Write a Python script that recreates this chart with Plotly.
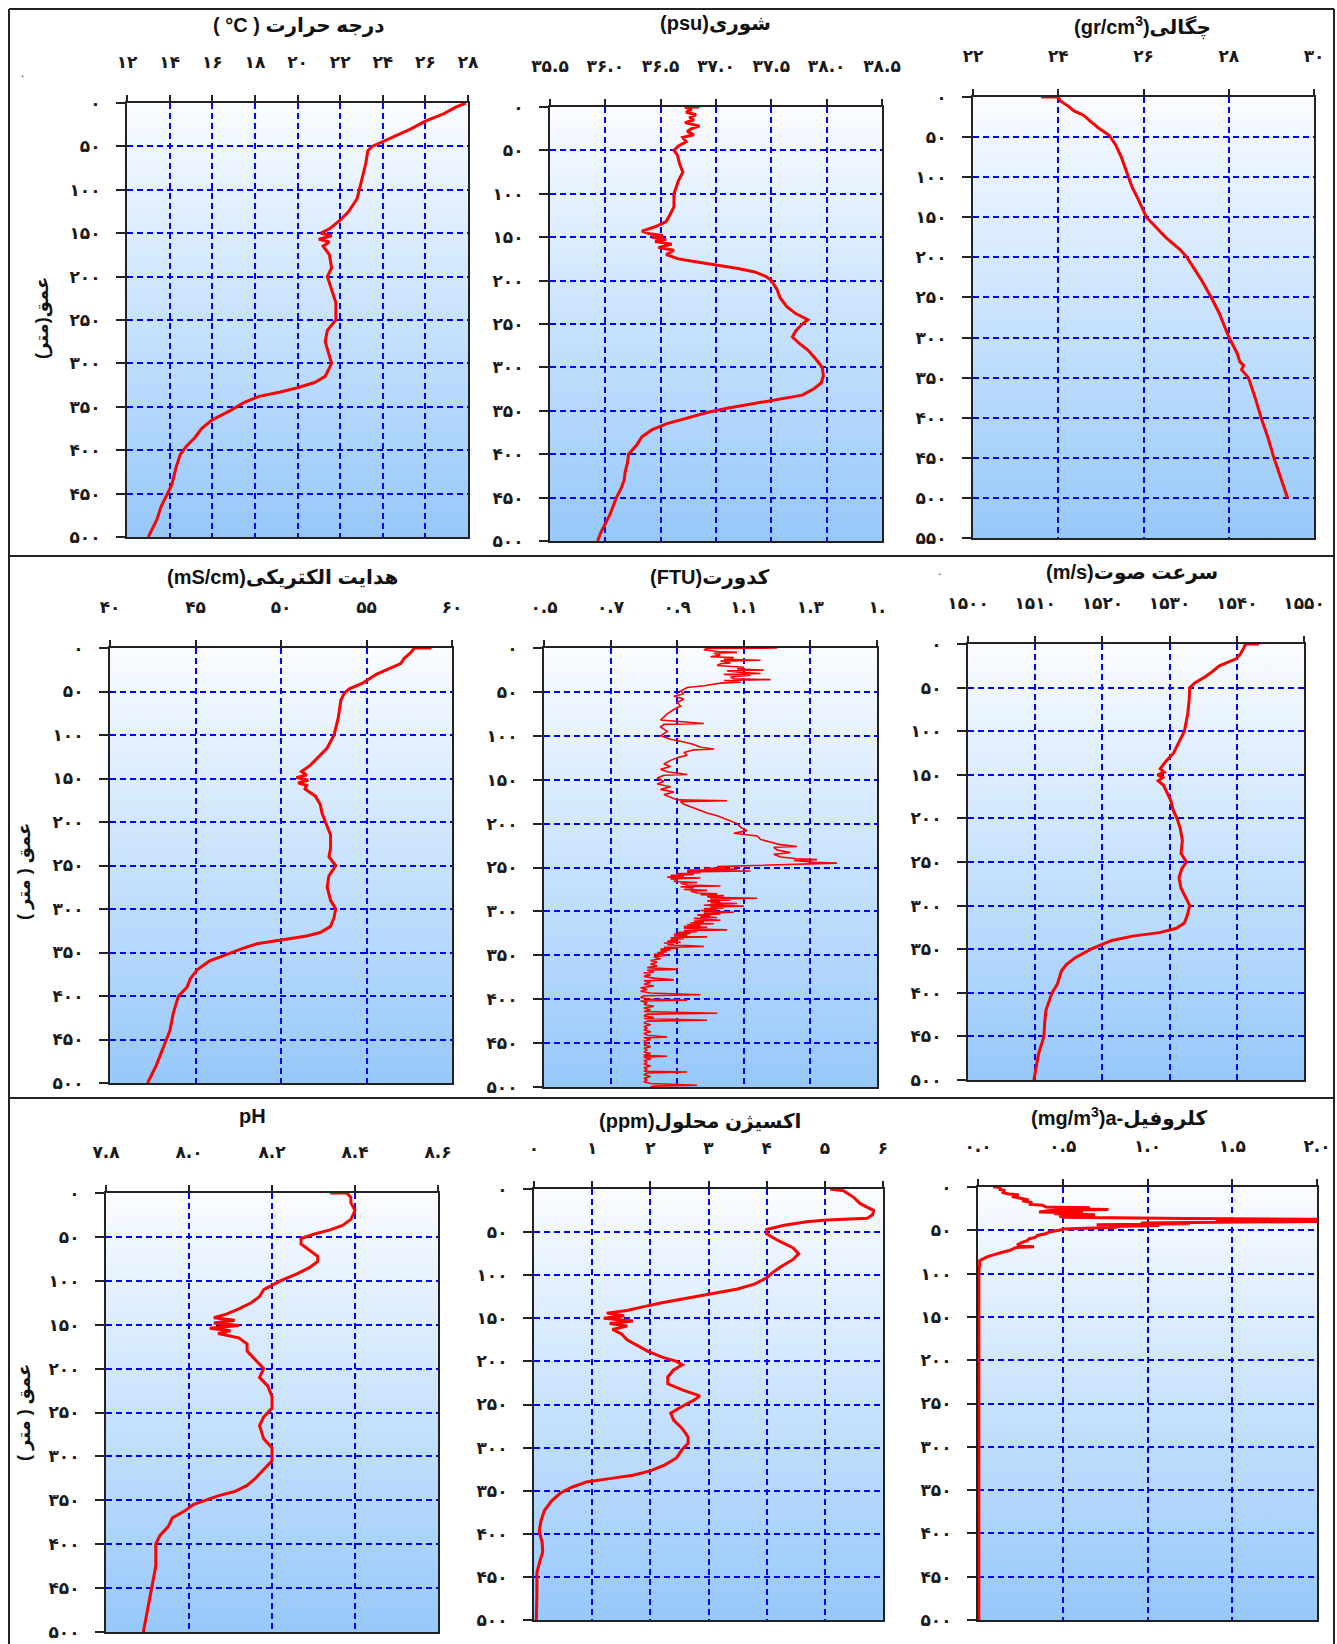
import base64
import plotly.graph_objects as go

W, H = 1337, 1644
FA = str.maketrans("0123456789", "۰۱۲۳۴۵۶۷۸۹")


def fa(s):
    return s.translate(FA)


# ------------------------------------------------------------------ data
temp_depth = [0, 5, 12, 21, 30, 40, 46, 50, 55, 70, 90, 110, 125, 135, 145, 150, 153, 157, 160, 165,
              175, 190, 200, 215, 230, 250, 262, 275, 290, 300, 315, 322, 328, 333, 338, 345, 355, 365,
              375, 385, 395, 405, 420, 440, 450, 465, 480, 490, 500]
temp_val = [27.9, 27.4, 26.9, 26.0, 25.3, 24.4, 23.9, 23.5, 23.3, 23.2, 23.0, 22.8, 22.4, 22.0, 21.5,
            21.1, 21.6, 21.0, 21.5, 21.2, 21.5, 21.6, 21.4, 21.6, 21.8, 21.8, 21.4, 21.3, 21.5, 21.6,
            21.3, 20.8, 20.0, 19.2, 18.2, 17.5, 16.8, 16.0, 15.5, 15.2, 14.8, 14.5, 14.3, 14.1, 13.9,
            13.6, 13.4, 13.2, 13.0]

sal_depth = [0, 0, 3, 6, 9, 12, 15, 18, 22, 25, 28, 32, 35, 40, 45, 50, 55, 65, 75, 85, 100, 115, 125,
             132, 138, 143, 146, 148, 150, 153, 155, 158, 162, 165, 170, 175, 178, 182, 186, 190, 195,
             200, 210, 220, 230, 238, 245, 250, 258, 265, 272, 280, 290, 300, 310, 318, 325, 332, 337,
             342, 347, 352, 358, 365, 372, 380, 390, 400, 410, 420, 430, 440, 450, 460, 470, 480, 490, 500]
sal_val = [36.85, 36.72, 36.78, 36.73, 36.82, 36.76, 36.80, 36.72, 36.85, 36.78, 36.74, 36.80, 36.70,
           36.73, 36.66, 36.62, 36.65, 36.67, 36.70, 36.66, 36.62, 36.62, 36.58, 36.55, 36.45, 36.33,
           36.40, 36.52, 36.42, 36.55, 36.45, 36.60, 36.48, 36.62, 36.55, 36.66, 36.80, 37.00, 37.20,
           37.35, 37.45, 37.50, 37.55, 37.58, 37.64, 37.72, 37.83, 37.78, 37.72, 37.69, 37.75, 37.83,
           37.90, 37.96, 37.97, 37.95, 37.88, 37.78, 37.55, 37.30, 37.10, 36.92, 36.75, 36.55, 36.42,
           36.33, 36.28, 36.21, 36.20, 36.18, 36.17, 36.14, 36.10, 36.07, 36.04, 36.00, 35.96, 35.93]

dens_depth = [0, 0, 5, 12, 17, 23, 30, 38, 48, 60, 75, 95, 112, 128, 140, 150, 160, 175, 190, 200, 215,
              230, 250, 270, 290, 300, 320, 330, 335, 340, 350, 375, 400, 425, 450, 475, 500]
dens_val = [23.6, 24.0, 24.05, 24.25, 24.36, 24.6, 24.75, 24.93, 25.2, 25.35, 25.48, 25.62, 25.73, 25.88,
            25.98, 26.07, 26.25, 26.52, 26.85, 27.02, 27.2, 27.38, 27.59, 27.78, 27.93, 28.01, 28.2,
            28.26, 28.35, 28.3, 28.46, 28.62, 28.76, 28.92, 29.06, 29.22, 29.38]

cond_depth = [0, 0, 5, 12, 18, 25, 30, 40, 47, 52, 60, 80, 100, 115, 125, 135, 142, 146, 149, 152, 155,
              158, 162, 170, 180, 190, 200, 215, 230, 240, 250, 262, 275, 290, 300, 310, 320, 327, 331,
              335, 340, 345, 350, 360, 370, 380, 390, 400, 420, 440, 450, 465, 480, 500]
cond_val = [58.8, 57.8, 57.6, 57.2, 57.0, 56.2, 55.6, 54.8, 54.0, 53.7, 53.5, 53.35, 53.1, 52.7, 52.2,
            51.7, 51.2, 51.5, 50.9, 51.6, 51.0, 51.5, 51.4, 52.0, 52.3, 52.4, 52.6, 52.9, 52.9, 52.8,
            53.2, 52.8, 52.7, 52.9, 53.2, 53.1, 52.9, 52.3, 51.5, 50.2, 48.6, 47.8, 47.1, 45.8, 45.1,
            44.7, 44.5, 44.0, 43.7, 43.5, 43.3, 43.0, 42.7, 42.2]

# turbidity profile as (depth, FTU) readings
turb_points = [
    (0, 1.20), (0.5, 0.99), (2, 0.98), (4, 1.02), (5, 1.08), (6, 1.01), (8, 1.03), (10, 1.00),
    (11, 1.07), (13, 1.04), (14, 1.15), (15, 1.03), (17, 1.06), (18, 1.03), (20, 1.02), (22, 1.10),
    (24, 1.08), (25, 1.16), (26, 1.05), (28, 1.10), (29, 1.15), (30, 1.04), (31, 1.12), (33, 1.06),
    (35, 1.07), (36, 1.18), (37, 1.04), (39, 1.09), (40, 1.03), (43, 0.98), (45, 0.93), (49, 0.91),
    (52, 0.92), (55, 0.89), (58, 0.92), (62, 0.90), (66, 0.91), (70, 0.89), (75, 0.87), (78, 0.86),
    (82, 0.85), (86, 0.98), (87, 0.86), (90, 0.85), (95, 0.87), (100, 0.85), (104, 0.88), (107, 0.92),
    (110, 0.95), (113, 0.97), (115, 1.01), (116, 0.95), (119, 0.92), (122, 0.93), (125, 0.90),
    (128, 0.88), (132, 0.86), (135, 0.88), (138, 0.85), (141, 0.87), (144, 0.93), (145, 0.86),
    (148, 0.84), (152, 0.86), (155, 0.84), (158, 0.88), (161, 0.85), (164, 0.89), (167, 0.86),
    (170, 0.88), (173, 0.90), (174, 1.05), (175, 0.91), (178, 0.92), (181, 0.94), (185, 0.97),
    (188, 0.99), (191, 1.02), (194, 1.04), (197, 1.06), (200, 1.08), (204, 1.09), (208, 1.11),
    (211, 1.07), (214, 1.14), (218, 1.15), (221, 1.18), (224, 1.21), (226, 1.26), (227, 1.19),
    (230, 1.20), (233, 1.24), (235, 1.19), (238, 1.21), (240, 1.26), (241, 1.32), (242, 1.25),
    (244, 1.31), (245, 1.38), (246, 1.30), (247, 1.22), (248, 1.10), (249, 1.02),
    (250, 1.05), (251, 0.98), (252, 1.08), (253, 0.93), (254, 1.12), (255, 0.93), (256, 0.97),
    (257, 0.90), (258, 0.95), (259, 0.88), (260, 0.92), (261, 0.87), (262, 0.97), (263, 0.88),
    (264, 0.90), (266, 0.89), (267, 0.96), (268, 0.91), (270, 0.93), (271, 1.03), (272, 0.91),
    (273, 0.95), (275, 0.92), (276, 0.99), (277, 0.94), (279, 0.96), (280, 1.02), (281, 0.97),
    (282, 1.04), (283, 0.99), (284, 1.00), (285, 1.14), (286, 1.00), (287, 1.06), (288, 0.99),
    (289, 1.03), (290, 1.00), (291, 1.08), (292, 1.02), (293, 0.98), (294, 1.10), (295, 1.00),
    (296, 1.04), (297, 0.98), (298, 1.02), (299, 0.97), (300, 1.01), (301, 1.07), (302, 0.98),
    (303, 1.03), (304, 0.96), (305, 1.00), (306, 0.97), (307, 1.02), (308, 0.95), (309, 0.99),
    (310, 1.03), (311, 0.95), (312, 0.98), (313, 0.94), (314, 1.01), (315, 0.93), (316, 0.97),
    (317, 0.92), (318, 0.99), (319, 0.92), (320, 0.95), (321, 1.05), (322, 0.92), (323, 0.96),
    (324, 0.90), (325, 0.94), (326, 0.89), (327, 0.93), (328, 0.89), (329, 0.99), (330, 0.88),
    (331, 0.92), (332, 0.88), (333, 0.90), (334, 0.87), (335, 0.91), (336, 0.86), (337, 0.89),
    (338, 0.87), (339, 0.93), (340, 0.98), (341, 0.86), (342, 0.90), (343, 0.85), (344, 0.88),
    (345, 0.85), (346, 0.87), (347, 0.84), (348, 0.86), (349, 0.83), (350, 0.87), (352, 0.83),
    (354, 0.85), (356, 0.82), (358, 0.84), (360, 0.82), (362, 0.84), (364, 0.81), (366, 0.90),
    (367, 0.81), (369, 0.83), (370, 0.80), (372, 0.82), (374, 0.80), (376, 0.83), (378, 0.89),
    (379, 0.80), (381, 0.82), (383, 0.80), (385, 0.83), (387, 0.79), (389, 0.81), (391, 0.79),
    (393, 0.82), (395, 0.97), (396, 0.80), (398, 0.79), (400, 0.82), (401, 0.93), (402, 0.79),
    (404, 0.81), (406, 0.80), (408, 0.83), (410, 0.80), (412, 0.82), (414, 0.80), (416, 1.02),
    (417, 0.81), (419, 0.80), (421, 0.83), (422, 0.80), (424, 0.99), (425, 0.81), (427, 0.80),
    (429, 0.82), (431, 0.80), (433, 0.81), (435, 0.80), (437, 0.82), (439, 0.80), (441, 0.81),
    (443, 0.87), (444, 0.80), (446, 0.82), (448, 0.80), (450, 0.81), (452, 0.80), (454, 0.82),
    (456, 0.80), (458, 0.81), (460, 0.80), (462, 0.82), (464, 0.80), (465, 0.87), (466, 0.80),
    (468, 0.82), (470, 0.80), (472, 0.81), (474, 0.80), (476, 0.82), (478, 0.80), (480, 0.81),
    (482, 0.80), (483, 0.93), (484, 0.81), (486, 0.80), (488, 0.82), (490, 0.80), (492, 0.81),
    (494, 0.80), (496, 0.82), (498, 0.96), (499, 0.83), (500, 0.82),
]
turb_depth = [p[0] for p in turb_points]
turb_val = [p[1] for p in turb_points]

sound_depth = [0, 0, 5, 12, 17, 25, 32, 37, 45, 50, 65, 80, 100, 115, 125, 135, 143, 147, 150, 153, 157,
               162, 170, 180, 190, 200, 212, 225, 240, 250, 258, 268, 280, 292, 300, 312, 320, 326, 331,
               335, 340, 345, 350, 360, 368, 375, 390, 400, 420, 435, 450, 470, 485, 500]
sound_val = [1543.3, 1541.3, 1541.0, 1540.5, 1539.9, 1537.4, 1536.3, 1535.4, 1533.7, 1533.0, 1532.9,
             1532.7, 1532.2, 1531.3, 1530.6, 1529.4, 1528.6, 1529.2, 1528.2, 1529.0, 1528.3, 1529.1,
             1529.6, 1530.2, 1530.5, 1531.1, 1531.6, 1531.9, 1531.7, 1532.5, 1531.8, 1531.4, 1531.7,
             1532.5, 1533.0, 1532.6, 1532.2, 1531.0, 1528.5, 1524.5, 1521.4, 1519.8, 1518.3, 1515.9,
             1514.6, 1513.9, 1513.3, 1512.5, 1511.6, 1511.4, 1511.3, 1510.5, 1510.1, 1509.8]

ph_depth = [0, 0, 5, 11, 20, 30, 37, 42, 47, 52, 58, 65, 72, 78, 85, 92, 100, 110, 118, 125, 132, 138,
            142, 145, 148, 151, 154, 157, 160, 165, 172, 180, 190, 200, 210, 220, 232, 245, 255, 265,
            280, 290, 297, 305, 315, 325, 333, 340, 345, 350, 355, 362, 370, 380, 390, 400, 425, 450,
            475, 500]
ph_val = [8.34, 8.38, 8.39, 8.39, 8.40, 8.39, 8.37, 8.34, 8.30, 8.27, 8.27, 8.29, 8.31, 8.31, 8.29,
          8.26, 8.22, 8.18, 8.17, 8.15, 8.12, 8.09, 8.06, 8.11, 8.06, 8.12, 8.05, 8.10, 8.07, 8.12,
          8.14, 8.14, 8.16, 8.18, 8.17, 8.19, 8.20, 8.20, 8.18, 8.17, 8.18, 8.20, 8.20, 8.20, 8.18,
          8.16, 8.14, 8.11, 8.07, 8.04, 8.01, 7.99, 7.96, 7.95, 7.93, 7.92, 7.92, 7.91, 7.90, 7.89]

oxy_depth = [0, 2, 10, 17, 25, 30, 34, 36, 38, 42, 47, 52, 60, 68, 75, 82, 90, 97, 103, 110, 116, 122,
             127, 132, 137, 141, 144, 147, 150, 153, 156, 159, 163, 168, 175, 182, 188, 195, 200, 204,
             210, 218, 226, 233, 240, 245, 252, 260, 268, 278, 288, 295, 302, 312, 320, 327, 332, 336,
             340, 346, 353, 362, 373, 385, 397, 410, 421, 432, 445, 470, 500]
oxy_val = [5.09, 5.32, 5.50, 5.61, 5.84, 5.82, 5.73, 5.04, 4.69, 4.30, 4.00, 4.00, 4.20, 4.45, 4.55,
           4.45, 4.25, 4.10, 4.00, 3.80, 3.50, 3.00, 2.60, 2.20, 1.85, 1.60, 1.25, 1.55, 1.20, 1.70,
           1.30, 1.60, 1.35, 1.50, 1.60, 1.80, 1.95, 2.20, 2.45, 2.55, 2.40, 2.30, 2.30, 2.55, 2.85,
           2.75, 2.55, 2.35, 2.40, 2.55, 2.65, 2.65, 2.55, 2.45, 2.25, 2.00, 1.70, 1.30, 0.90, 0.65,
           0.45, 0.30, 0.18, 0.12, 0.09, 0.14, 0.15, 0.10, 0.05, 0.05, 0.04]

chl_depth = [0, 0, 3, 4, 6, 8, 9, 11, 13, 15, 16, 18, 20, 21, 23, 24, 25, 26, 27, 29, 30, 31, 32, 33,
             35, 36.5, 37.5, 38.5, 39.5, 40.5, 41.5, 42.5, 43.5, 44.5, 45.5, 46.5, 47.5, 48.5, 50, 52,
             54, 56, 58, 60, 62, 64, 67, 69, 70, 73, 75, 77, 79, 81, 83, 85, 90, 96, 150, 300, 500]
chl_val = [0.09, 0.13, 0.13, 0.16, 0.14, 0.18, 0.24, 0.20, 0.25, 0.30, 0.26, 0.32, 0.30, 0.38, 0.40,
           0.66, 0.45, 0.77, 0.42, 0.36, 0.62, 0.45, 0.69, 0.48, 0.50, 1.23, 2.20, 1.40, 2.20, 1.35,
           0.96, 1.25, 0.70, 1.07, 0.80, 0.82, 0.55, 0.50, 0.48, 0.42, 0.40, 0.35, 0.34, 0.30, 0.29,
           0.26, 0.23, 0.33, 0.22, 0.19, 0.15, 0.11, 0.08, 0.05, 0.03, 0.01, 0.01, 0.005, 0.005,
           0.005, 0.005]

# ------------------------------------------------------------------ ticks
depth_ticks = list(range(0, 501, 50))
depth_ticks_dens = list(range(0, 551, 50))
depth_labels = [fa(str(v)) for v in depth_ticks]
depth_labels_dens = [fa(str(v)) for v in depth_ticks_dens]

temp_ticks = [12, 14, 16, 18, 20, 22, 24, 26, 28]
temp_labels = [fa(str(v)) for v in temp_ticks]
sal_ticks = [35.5, 36.0, 36.5, 37.0, 37.5, 38.0, 38.5]
sal_labels = [fa(f"{v:.1f}") for v in sal_ticks]
dens_ticks = [22, 24, 26, 28, 30]
dens_labels = [fa(str(v)) for v in dens_ticks]
cond_ticks = [40, 45, 50, 55, 60]
cond_labels = [fa(str(v)) for v in cond_ticks]
turb_ticks = [0.5, 0.7, 0.9, 1.1, 1.3, 1.5]
turb_labels = ["۰.۵", "۰.۷", "۰.۹", "۱.۱", "۱.۳", "۱."]
sound_ticks = [1500, 1510, 1520, 1530, 1540, 1550]
sound_labels = [fa(str(v)) for v in sound_ticks]
ph_ticks = [7.8, 8.0, 8.2, 8.4, 8.6]
ph_labels = [fa(f"{v:.1f}") for v in ph_ticks]
oxy_ticks = [0, 1, 2, 3, 4, 5, 6]
oxy_labels = [fa(str(v)) for v in oxy_ticks]
chl_ticks = [0.0, 0.5, 1.0, 1.5, 2.0]
chl_labels = [fa(f"{v:.1f}") for v in chl_ticks]

titles = ["( °C ) درجه حرارت", "(psu)شوری", "(gr/cm<sup>3</sup>)چگالی",
          "(mS/cm)هدایت الکتریکی", "(FTU)کدورت", "(m/s)سرعت صوت",
          "pH", "(ppm)اکسیژن محلول", "(mg/m<sup>3</sup>)a-کلروفیل"]
depth_title_1 = "عمق(متر)"
depth_title_2 = "عمق ( متر )"

# ------------------------------------------------------------------ panels
panels = [
    (temp_val, temp_depth, [12, 28], temp_ticks, temp_labels, 500, depth_ticks, depth_labels),
    (sal_val, sal_depth, [35.5, 38.5], sal_ticks, sal_labels, 500, depth_ticks, depth_labels),
    (dens_val, dens_depth, [22, 30], dens_ticks, dens_labels, 550, depth_ticks_dens, depth_labels_dens),
    (cond_val, cond_depth, [40, 60], cond_ticks, cond_labels, 500, depth_ticks, depth_labels),
    (turb_val, turb_depth, [0.5, 1.5], turb_ticks, turb_labels, 500, depth_ticks, depth_labels),
    (sound_val, sound_depth, [1500, 1550], sound_ticks, sound_labels, 500, depth_ticks, depth_labels),
    (ph_val, ph_depth, [7.8, 8.6], ph_ticks, ph_labels, 500, depth_ticks, depth_labels),
    (oxy_val, oxy_depth, [0, 6], oxy_ticks, oxy_labels, 500, depth_ticks, depth_labels),
    (chl_val, chl_depth, [0, 2.0], chl_ticks, chl_labels, 500, depth_ticks, depth_labels),
]
# plot boxes in pixels: left, right, top, bottom
boxes = [(127, 468, 103, 537), (550, 882, 107, 541), (973, 1314, 97, 538),
         (110, 452, 648, 1083), (544, 877, 648, 1087), (968, 1304, 644, 1080),
         (106, 438, 1193, 1632), (534, 883, 1189, 1620), (978, 1317, 1187, 1620)]
title_pos = [(299, 25), (715, 24), (1142, 26), (282, 577), (710, 577), (1132, 572),
             (252, 1116), (700, 1121), (1119, 1117)]
line_widths = [3, 3, 3, 3, 1.6, 3, 3, 3, 3]

grad_svg = ('<svg xmlns="http://www.w3.org/2000/svg" width="100" height="100" viewBox="0 0 100 100" '
            'preserveAspectRatio="none"><defs><linearGradient id="g" x1="0" y1="0" x2="0" y2="1">'
            '<stop offset="0" stop-color="#fafcff"/><stop offset="1" stop-color="#96c8fa"/>'
            '</linearGradient></defs><rect x="0" y="0" width="100" height="100" fill="url(#g)"/></svg>')
grad_src = "data:image/svg+xml;base64," + base64.b64encode(grad_svg.encode("utf-8")).decode("ascii")

FONT = "Liberation Sans, DejaVu Sans, Arial, sans-serif"
TICKFONT = dict(family="DejaVu Sans, Liberation Sans", size=17, color="#1a1a1a", weight="bold")

fig = go.Figure()
layout = dict(
    template="none",
    width=W, height=H, autosize=False,
    margin=dict(l=0, r=0, t=0, b=0, pad=0, autoexpand=False),
    paper_bgcolor="white", plot_bgcolor="rgba(0,0,0,0)", showlegend=False,
)
images, annotations, shapes = [], [], []

for i, (vals, depths, xr, xt, xl, ymax, yt, yl) in enumerate(panels):
    n = i + 1
    sfx = "" if n == 1 else str(n)
    l, r, t, b = boxes[i]
    fig.add_trace(go.Scatter(
        x=vals, y=depths, mode="lines",
        line=dict(color="#ff0000", width=line_widths[i]),
        xaxis="x" + sfx, yaxis="y" + sfx, hoverinfo="skip", showlegend=False,
    ))
    layout["xaxis" + sfx] = dict(
        domain=[l / W, r / W], anchor="y" + sfx, side="top", range=xr, automargin=False,
        tickmode="array", tickvals=xt, ticktext=xl, tickfont=TICKFONT,
        ticks="outside", ticklen=6, tickwidth=1.5, tickcolor="#222",
        ticklabelstandoff=20, ticklabeloverflow="allow",
        showgrid=True, gridcolor="#0000ff", gridwidth=1.5, griddash="6px,4px",
        showline=True, linecolor="#222", linewidth=2, mirror=True, zeroline=False,
        fixedrange=True,
    )
    layout["yaxis" + sfx] = dict(
        domain=[1 - b / H, 1 - t / H], anchor="x" + sfx, range=[ymax, 0], automargin=False,
        tickmode="array", tickvals=yt, ticktext=yl, tickfont=TICKFONT,
        ticks="outside", ticklen=9, tickwidth=1.5, tickcolor="#222",
        ticklabelstandoff=12, ticklabeloverflow="allow",
        showgrid=True, gridcolor="#0000ff", gridwidth=1.5, griddash="6px,4px",
        showline=True, linecolor="#222", linewidth=2, mirror=True, zeroline=False,
        fixedrange=True,
    )
    images.append(dict(
        source=grad_src, xref="x" + sfx + " domain", yref="y" + sfx + " domain",
        x=0, y=1, sizex=1, sizey=1, xanchor="left", yanchor="top",
        sizing="stretch", layer="below",
    ))
    tx, ty = title_pos[i]
    annotations.append(dict(
        text=titles[i], x=tx / W, y=1 - ty / H, xref="paper", yref="paper",
        xanchor="center", yanchor="middle", showarrow=False,
        font=dict(family=FONT, size=20, color="#111", weight="bold"),
    ))

# depth axis titles (rotated)
for txt, (px, py) in [(depth_title_1, (42, 318)), (depth_title_2, (24, 872)), (depth_title_2, (24, 1413))]:
    annotations.append(dict(
        text="\u202b" + txt + "\u202c", x=px / W, y=1 - py / H, xref="paper", yref="paper",
        xanchor="center", yanchor="middle", showarrow=False, textangle=-90,
        font=dict(family=FONT, size=18, color="#111", weight="bold"),
    ))

# stray dots in the original
for (px, py) in [(19, 64), (943, 571)]:
    annotations.append(dict(
        text=".", x=px / W, y=1 - py / H, xref="paper", yref="paper",
        showarrow=False, font=dict(family=FONT, size=12, color="#333")))

# frame
frame = [(9, 9, 1334, 9), (9, 9, 9, 1644), (1334, 9, 1334, 1644),
         (9, 556, 1334, 556), (9, 1098, 1334, 1098)]
for (x0, y0, x1, y1) in frame:
    shapes.append(dict(type="line", xref="paper", yref="paper",
                       x0=x0 / W, y0=1 - y0 / H, x1=x1 / W, y1=1 - y1 / H,
                       line=dict(color="#222", width=2)))

layout["images"] = images
layout["annotations"] = annotations
layout["shapes"] = shapes
fig.update_layout(**layout)
fig.write_html(
    "out.html",
    post_script=("document.documentElement.style.margin='0';document.body.style.margin='0';"
                 "document.body.style.padding='0';document.documentElement.style.overflow='hidden';"
                 "document.body.style.overflow='hidden';"),
)
